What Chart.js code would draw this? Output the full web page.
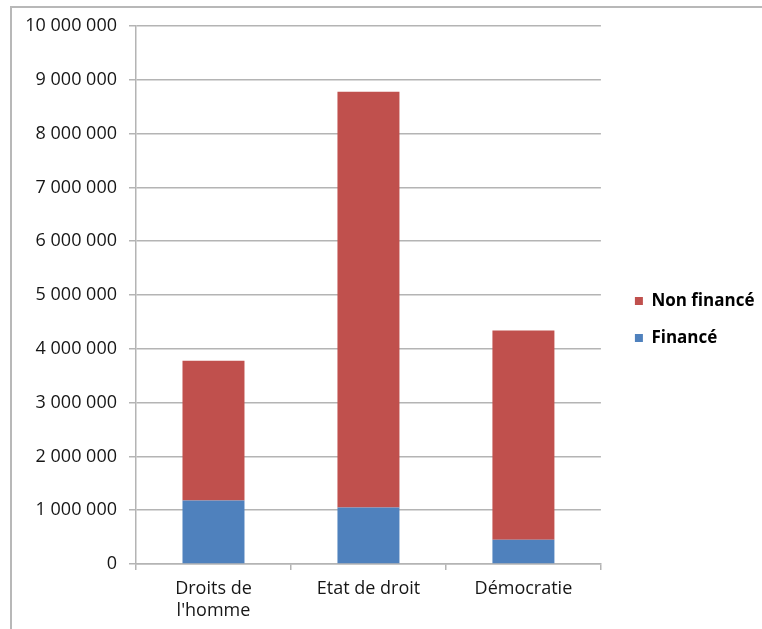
<!DOCTYPE html>
<html>
<head>
<meta charset="utf-8">
<script src="https://cdn.jsdelivr.net/npm/chart.js@4/dist/chart.umd.min.js"></script>
<style>
  html, body { margin: 0; padding: 0; background: #fff; overflow: hidden; }
  #wrap { position: relative; width: 762px; height: 629px; }
  #frame { position: absolute; left: 10px; top: 6px; width: 800px; height: 700px;
           border-left: 2px solid #b8b8b8; border-top: 2px solid #b8b8b8; }
  canvas { position: absolute; left: 0; top: 0; }
</style>
</head>
<body>
<div id="wrap">
  <div id="frame"></div>
  <canvas id="chart" width="762" height="629"></canvas>
</div>
<script>
var categories = [['Droits de', "l'homme"], 'Etat de droit', 'Démocratie'];
var finance = [1180000, 1050000, 450000];
var nonFinance = [2600000, 7730000, 3890000];
var yMax = 10000000;
var yStep = 1000000;

var gridColor = '#b4b4b4';
var textColor = '#161616';
var fontName = '"Open Sans", "Liberation Sans", sans-serif';

function spaced(v) {
  return String(v).replace(/\B(?=(\d{3})+(?!\d))/g, ' ');
}

// push the legend a bit away from the plot, and up a little
var legendShift = {
  id: 'legendShift',
  afterLayout: function (chart) {
    chart.legend.left += 14;
    chart.legend.right += 14;
    chart.legend.top -= 8;
    chart.legend.bottom -= 8;
  },
};

var ctx = document.getElementById('chart').getContext('2d');
var myChart = new Chart(ctx, {
  type: 'bar',
  data: {
    labels: categories,
    datasets: [{
      label: 'Financé',
      data: finance,
      backgroundColor: '#4f81bd',
      barPercentage: 0.4,
      categoryPercentage: 1,
    }, {
      label: 'Non financé',
      data: nonFinance,
      backgroundColor: '#c0504d',
      barPercentage: 0.4,
      categoryPercentage: 1,
    }],
  },
  plugins: [legendShift],
  options: {
    responsive: false,
    animation: false,
    layout: { padding: { top: 26, left: 0, right: 11.5, bottom: 0 } },
    plugins: {
      tooltip: { enabled: false },
      legend: {
        position: 'right',
        reverse: true,
        labels: {
          boxWidth: 8,
          boxHeight: 8,
          padding: 20,
          color: '#000',
          font: { family: fontName, size: 17, weight: 'bold' },
        },
      },
    },
    scales: {
      x: {
        stacked: true,
        grid: { drawOnChartArea: false, color: gridColor, tickLength: 6, lineWidth: 1.5 },
        border: { color: gridColor, width: 1.5 },
        ticks: { color: textColor, padding: 8, font: { family: fontName, size: 18 } },
        afterFit: function (s) { s.height = 65; },
      },
      y: {
        stacked: true,
        min: 0,
        max: yMax,
        grid: { color: gridColor, tickLength: 7, lineWidth: 1.5 },
        border: { color: gridColor, width: 1.5 },
        ticks: {
          stepSize: yStep,
          color: textColor,
          padding: 12,
          font: { family: fontName, size: 18 },
          callback: function (v) { return spaced(v); },
        },
        afterFit: function (s) { s.width = 136; },
      },
    },
  },
});
</script>
</body>
</html>
